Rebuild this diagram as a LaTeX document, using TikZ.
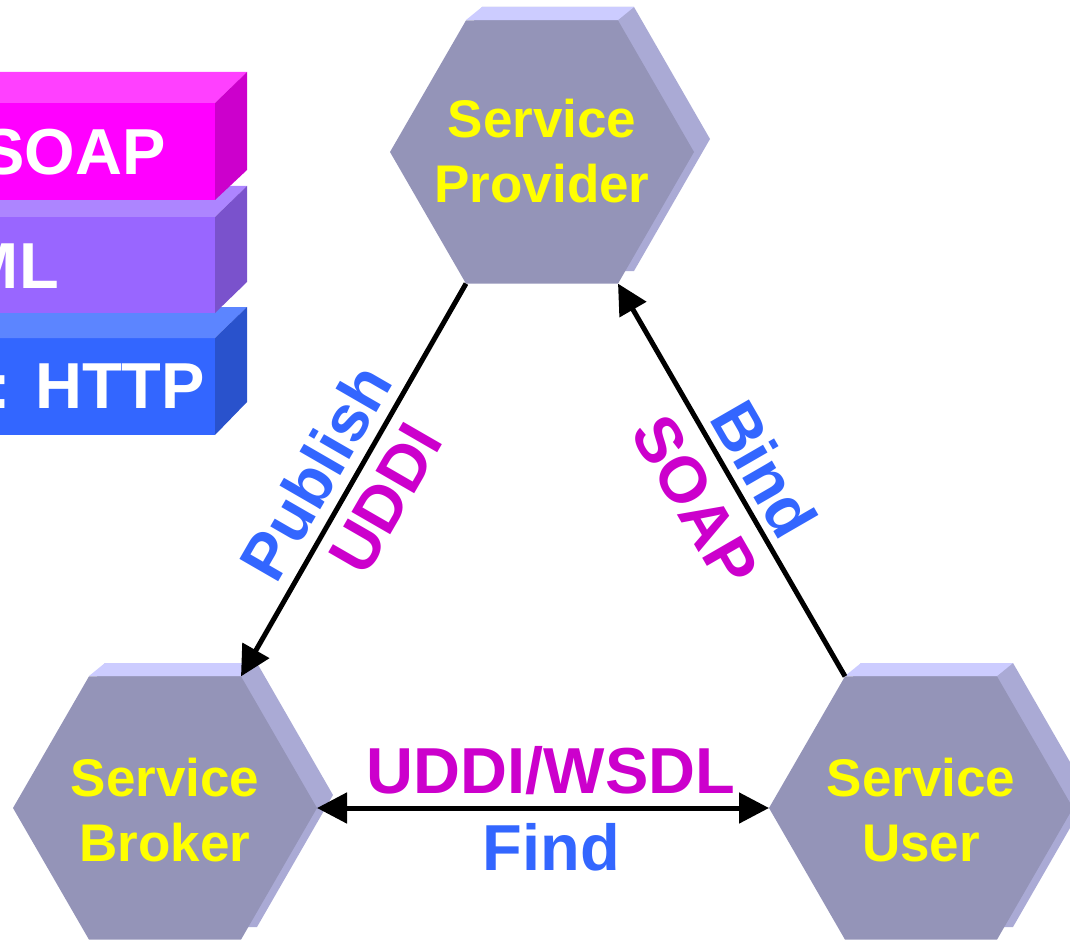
\documentclass[tikz,border=0pt]{standalone}
\usepackage{fontspec}
\setmainfont{Liberation Sans}
\usepackage{xcolor}
\usetikzlibrary{shapes.geometric,arrows.meta}

\definecolor{hexfront}{RGB}{148,148,184}
\definecolor{hextop}{RGB}{204,204,255}
\definecolor{hexside}{RGB}{170,170,213}
\definecolor{hexyellow}{RGB}{255,255,0}
\definecolor{soapfront}{RGB}{255,0,255}
\definecolor{soaptop}{RGB}{255,64,255}
\definecolor{soapside}{RGB}{204,0,204}
\definecolor{xmlfront}{RGB}{153,102,255}
\definecolor{xmltop}{RGB}{173,133,255}
\definecolor{xmlside}{RGB}{122,82,204}
\definecolor{httpfront}{RGB}{51,102,255}
\definecolor{httptop}{RGB}{92,133,255}
\definecolor{httpside}{RGB}{41,82,204}
\definecolor{lblue}{RGB}{51,102,255}
\definecolor{lmagenta}{RGB}{204,0,204}

\tikzset{
  hexface/.style={regular polygon, regular polygon sides=6, minimum size=304pt,
    inner sep=0pt, outer sep=0pt, fill=hexfront},
  hextext/.style={text=hexyellow, align=center, inner sep=0pt,
    font=\fontsize{53}{65}\selectfont\bfseries},
  boxtext/.style={inner sep=0pt, text=white, font=\fontsize{65}{78}\selectfont\bfseries},
  conn/.style={line width=5pt, -{Triangle[length=30pt,width=30pt]}},
  bluelab/.style={text=lblue, outer sep=0pt, font=\fontsize{65}{78}\selectfont\bfseries},
  maglab/.style={text=lmagenta, outer sep=0pt, font=\fontsize{65}{78}\selectfont\bfseries}
}

\begin{document}
\begin{tikzpicture}[x=1pt,y=1pt,yscale=-1,xscale=1]
\useasboundingbox (0,0) rectangle (1070,941);
\clip (0,0) rectangle (1070,941);

%Shape: Cuboid (HTTP)
\fill[httpfront] (-400,338) rectangle (215,435);
\fill[httptop] (-400,338) -- (215,338) -- (247,307) -- (-368,307) -- cycle;
\fill[httpside] (215,338) -- (247,307) -- (247,402) -- (215,435) -- cycle;
% Text Node
\node[boxtext, anchor=base east] (http) at (205,408) {Transport: HTTP};

%Shape: Cuboid (XML)
\fill[xmlfront] (-400,217) rectangle (215,313);
\fill[xmltop] (-400,217) -- (215,217) -- (247,186) -- (-368,186) -- cycle;
\fill[xmlside] (215,217) -- (247,186) -- (247,282) -- (215,313) -- cycle;
% Text Node
\node[boxtext, anchor=base east] (xml) at (59,288) {Encoding: XML};

%Shape: Cuboid (SOAP)
\fill[soapfront] (-400,103) rectangle (215,200);
\fill[soaptop] (-400,103) -- (215,103) -- (247,72) -- (-368,72) -- cycle;
\fill[soapside] (215,103) -- (247,72) -- (247,170) -- (215,200) -- cycle;
% Text Node
\node[boxtext, anchor=base east] (soap) at (166,175) {Messaging: SOAP};

%Shape: Hexagon backs
\fill[hexside] (482,7) -- (634,7) -- (710,139) -- (634,271) -- (482,271) -- (406,139) -- cycle;
\fill[hextop] (466,20) -- (618,20) -- (634,7) -- (482,7) -- cycle;
\fill[hexside] (105,663) -- (257,663) -- (333,795) -- (257,927) -- (105,927) -- (29,795) -- cycle;
\fill[hextop] (89,676) -- (241,676) -- (257,663) -- (105,663) -- cycle;
\fill[hexside] (861,663) -- (1013,663) -- (1089,795) -- (1013,927) -- (861,927) -- (785,795) -- cycle;
\fill[hextop] (845,676) -- (997,676) -- (1013,663) -- (861,663) -- cycle;

%Shape: Hexagons
\node[hexface] (provider) at (542,152) {};
\node[hexface] (broker) at (165,808) {};
\node[hexface] (user) at (921,808) {};

% Text Node
\node[hextext] (providertext) at (542,151) {Service\\Provider};
% Text Node
\node[hextext] (brokertext) at (165,810) {Service\\Broker};
% Text Node
\node[hextext] (usertext) at (921,810) {Service\\User};

%Straight Lines
\draw[conn] (provider.240) -- (broker.60)
  node[pos=.527, rotate=60, above, inner sep=13pt, bluelab] (publish) {Publish}
  node[pos=.5, rotate=60, below, inner sep=15pt, maglab] (uddi) {UDDI};
%Straight Lines
\draw[conn] (user.120) -- (provider.300)
  node[pos=.485, rotate=-60, above, inner sep=10pt, bluelab] (bind) {Bind}
  node[pos=.5, rotate=-60, below, inner sep=19pt, maglab] (soapbind) {SOAP};
%Straight Lines
\draw[conn, {Triangle[length=30pt,width=30pt]}-{Triangle[length=30pt,width=30pt]}] (broker.0) -- (user.180)
  node[pos=.518, above, inner sep=13pt, maglab] (wsdl) {UDDI/WSDL}
  node[pos=.518, below, inner sep=15pt, bluelab] (find) {Find};

\end{tikzpicture}
\end{document}
